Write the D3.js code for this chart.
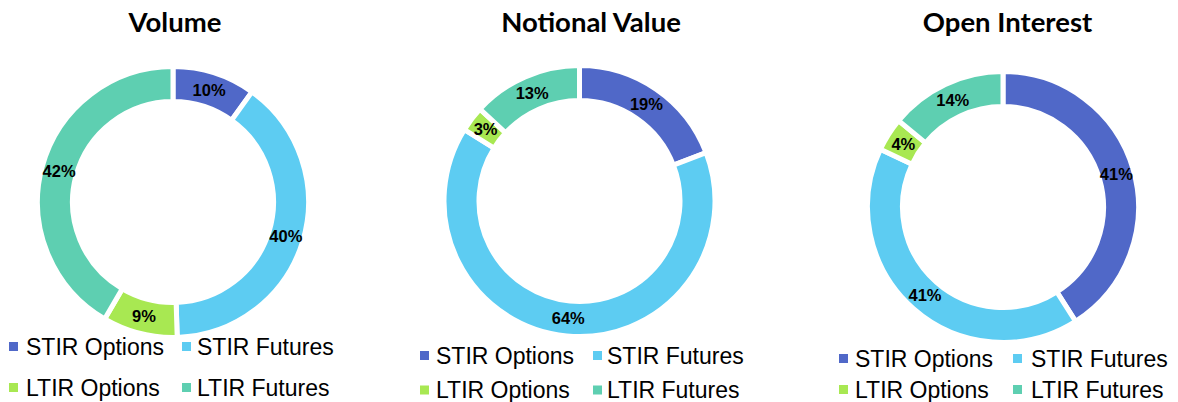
<!DOCTYPE html>
<html>
<head>
<meta charset="utf-8">
<script src="https://cdn.jsdelivr.net/npm/d3@7"></script>
<style>
  html, body { margin: 0; padding: 0; background: #fff; }
  svg { display: block; }
</style>
</head>
<body>
<svg id="chart" width="1178" height="402"></svg>
<script>
// ---- data ----
const categories = ["STIR Options", "STIR Futures", "LTIR Options", "LTIR Futures"];
const chartTitles = ["Volume", "Notional Value", "Open Interest"];
const volumeValues = [10, 40, 9, 42];
const notionalValues = [19, 64, 3, 13];
const openInterestValues = [41, 41, 4, 14];
const colors = ["#5068C8", "#5DCCF2", "#A8E852", "#5ECFB1"];

// ---- layout ----
const layouts = [
  { values: volumeValues, cx: 173, cy: 202, titleX: 175,
    sqX: [9, 182], textX: [26, 197], rowY: [346.5, 387.5] },
  { values: notionalValues, cx: 579.5, cy: 201, titleX: 591,
    sqX: [420, 593], textX: [436, 607], rowY: [355.5, 390] },
  { values: openInterestValues, cx: 1003, cy: 207, titleX: 1007.5,
    sqX: [839, 1013], textX: [855, 1031], rowY: [358.5, 389.5] }
];

const svg = d3.select("#chart");
const color = d3.scaleOrdinal().domain(categories).range(colors);
const pie = d3.pie().sort(null).value(d => d.value);
const outerR = 135.5, innerR = 100.5;
const arc = d3.arc().innerRadius(innerR).outerRadius(outerR);
const labelArc = d3.arc().innerRadius(118).outerRadius(118);

layouts.forEach((L, i) => {
  const data = categories.map((c, j) => ({ cat: c, value: L.values[j] }));
  const arcs = pie(data);

  svg.append("text")
    .attr("x", L.titleX).attr("y", 32)
    .attr("text-anchor", "middle")
    .style("font-family", "Lato, 'Open Sans', sans-serif")
    .style("font-weight", "bold")
    .style("font-size", "27.5px")
    .style("fill", "#000")
    .text(chartTitles[i]);

  const g = svg.append("g").attr("transform", `translate(${L.cx},${L.cy})`);
  g.selectAll("path").data(arcs).join("path")
    .attr("d", arc)
    .attr("fill", d => color(d.data.cat))
    .attr("stroke", "#fff")
    .attr("stroke-width", 5)
    .attr("stroke-linejoin", "miter");

  g.selectAll("text.lbl").data(arcs).join("text")
    .attr("class", "lbl")
    .attr("transform", d => `translate(${labelArc.centroid(d)})`)
    .attr("text-anchor", "middle")
    .attr("dy", "0.36em")
    .style("font-family", "'Liberation Sans', Arial, sans-serif")
    .style("font-weight", "bold")
    .style("font-size", "16.5px")
    .style("fill", "#000")
    .text(d => d.data.value + "%");

  // legend
  const lg = svg.append("g");
  categories.forEach((c, j) => {
    const col = j % 2, row = Math.floor(j / 2);
    const y = L.rowY[row];
    lg.append("rect")
      .attr("x", L.sqX[col]).attr("y", y - 4.5)
      .attr("width", 9).attr("height", 9)
      .attr("fill", color(c));
    lg.append("text")
      .attr("x", L.textX[col]).attr("y", y + 8)
      .style("font-family", "'Liberation Sans', Arial, sans-serif")
      .style("font-size", "23px")
      .style("fill", "#000")
      .text(c);
  });
});
</script>
</body>
</html>
